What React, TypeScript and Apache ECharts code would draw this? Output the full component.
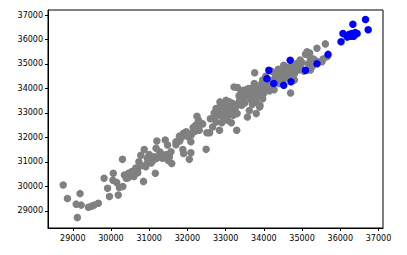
import React, { useEffect, useRef } from "react";
import * as echarts from "echarts";

const xLimits = [28352, 37118];
const yLimits = [28295, 37205];
const tickValues = [29000, 30000, 31000, 32000, 33000, 34000, 35000, 36000, 37000];

const grayPoints: [number, number][] = [
  [28750, 30050], [28860, 29500], [29190, 29700], [29120, 28720], [29090, 29270],
  [29220, 29230], [29410, 29140], [29500, 29190], [29560, 29230], [29670, 29310],
  [29820, 30330], [29910, 29920], [29960, 29580], [30060, 30530], [30050, 30250],
  [30150, 30150], [30190, 29640], [30220, 29950], [30310, 29990], [30300, 31100],
  [30350, 30460], [30400, 30330], [30460, 30530], [30550, 30600], [30600, 30400],
  [30690, 30670], [30730, 31000], [30780, 31270], [30850, 30200], [30870, 31500],
  [30910, 30800], [30960, 30970], [31030, 31100], [31130, 31210], [31160, 30530],
  [31180, 31550], [31200, 31850], [31270, 31410], [31330, 31270], [31400, 31230],
  [31420, 31890], [31480, 31690], [31530, 31200], [31590, 30930], [31570, 31410],
  [31700, 31820], [31790, 32050], [31880, 31500], [31900, 31340], [31900, 32170],
  [31970, 32230], [32010, 32030], [32050, 31100], [32090, 31370], [32090, 31820],
  [32160, 32230], [32220, 32500], [32250, 32860], [32290, 32700], [32310, 32290],
  [32490, 31510], [32510, 32190], [32580, 32190], [32600, 32760], [32660, 32420],
  [32750, 32630], [32840, 32290], [32750, 33180], [32810, 32910], [32880, 33240],
  [32920, 33040], [33010, 33510], [33010, 32830], [33070, 33310], [33140, 33140],
  [33170, 33390], [33220, 33040], [33220, 34060], [33290, 32290], [33300, 32970],
  [33310, 34040], [33380, 33580], [33420, 33310], [33460, 33920], [33550, 33730],
  [33570, 32830], [33620, 33100], [33680, 33510], [33720, 34040], [33760, 34640],
  [33800, 32970], [33840, 33790], [33890, 33240], [33930, 34130], [33970, 34340],
  [34050, 34000], [33970, 33580], [34050, 34500], [34140, 34340], [34180, 34060],
  [34270, 33950], [34310, 34560], [34380, 34780], [34440, 34450], [34460, 34640],
  [34520, 34950], [34570, 34500], [34640, 34750], [34700, 33810], [34740, 34890],
  [34800, 34340], [34860, 35020], [34910, 34750], [34950, 35160], [35090, 35400],
  [35130, 35500], [35170, 35020], [35220, 34750], [35260, 34890], [35220, 35230],
  [35390, 35640], [35520, 35090], [35610, 35820], [35660, 35300], [35130, 34750],
  [32700, 33000], [32850, 33100], [32950, 33300], [33050, 33150], [33100, 32950],
  [32900, 32850], [33150, 33250], [33250, 33200], [32980, 33400], [33100, 33450],
  [32800, 33200], [33300, 33300], [33200, 32900], [32700, 32800], [33050, 32700],
  [33150, 32600], [32900, 32600], [33500, 33650], [33600, 33900], [33700, 33800],
  [33650, 33600], [33800, 34000], [33850, 33700], [33900, 33900], [34000, 33800],
  [34100, 34100], [33750, 34200], [33950, 34200], [33600, 34000], [33500, 33400],
  [33700, 33350], [33800, 33450], [33900, 33300], [33400, 33800], [34150, 33900],
  [34200, 34300], [34350, 34350], [34450, 34600], [34550, 34700], [34600, 34450],
  [34650, 34600], [34700, 34500], [34750, 34700], [34800, 34600], [34850, 34800],
  [34550, 34900], [34400, 34200], [34500, 34300], [34650, 34850], [34950, 34900],
  [35000, 35050], [34700, 34400], [34300, 34500], [34200, 34700], [35050, 34700],
  [35250, 34900], [35400, 35100], [35550, 35200], [35200, 35450], [35300, 35200],
  [31800, 31850], [31850, 32000], [31950, 32100], [32000, 32150], [32100, 32100],
  [32150, 32400], [32200, 32250], [31700, 31700], [32300, 32450], [32400, 32550],
  [31000, 31300], [31050, 30950], [31100, 31050], [31200, 31150], [31300, 31350],
  [31350, 31150], [31450, 31300], [31500, 31050], [30950, 31150], [30800, 30850],
  [30500, 30450], [30600, 30550], [30650, 30750], [30450, 30350], [30700, 30550],
  [33350, 33700], [33450, 33550], [33550, 33950], [33750, 33650], [34000, 34050],
  [34350, 34650], [34600, 34650], [34900, 34950], [33350, 33450], [32850, 33450],
];

const bluePoints: [number, number][] = [
  [36660, 36820], [36730, 36400], [36330, 36620], [36020, 35910], [36070, 36240],
  [36180, 36100], [36240, 36210], [36310, 36240], [36350, 36130], [36390, 36280],
  [36440, 36240], [36270, 36130], [35680, 35390], [35390, 35010], [35090, 34740],
  [34690, 35150], [34710, 34270], [34520, 34130], [34130, 34740], [34080, 34400],
  [34260, 34200],
];

export default function App() {
  const ref = useRef<HTMLDivElement>(null);
  useEffect(() => {
    document.body.style.margin = "0";
    const chart = echarts.init(ref.current!, null, { renderer: "svg" });
    const axisCommon = {
      type: "value" as const,
      scale: true,
      splitNumber: 8,
      splitLine: { show: false },
      axisLine: { show: true, lineStyle: { color: "#000", width: 1 } },
      axisTick: {
        show: true,
        length: 3,
        inside: false,
        customValues: tickValues,
        lineStyle: { color: "#000" },
      },
      axisLabel: {
        color: "#000",
        fontSize: 8,
        fontFamily: "DejaVu Sans",
        customValues: tickValues,
        formatter: (v: number) => String(v),
      },
    };
    chart.setOption({
      animation: false,
      backgroundColor: "#fff",
      grid: {
        left: 48,
        right: 24,
        top: 10,
        bottom: 27,
        show: true,
        borderColor: "#000",
        borderWidth: 1,
        backgroundColor: "transparent",
      },
      xAxis: {
        ...axisCommon,
        min: xLimits[0],
        max: xLimits[1],
        axisLabel: { ...axisCommon.axisLabel, margin: 6 },
      },
      yAxis: {
        ...axisCommon,
        min: yLimits[0],
        max: yLimits[1],
        axisLabel: { ...axisCommon.axisLabel, margin: 5 },
      },
      series: [
        {
          type: "scatter",
          data: grayPoints,
          symbolSize: 7.5,
          itemStyle: { color: "#808080", opacity: 1 },
          emphasis: { disabled: true },
        },
        {
          type: "scatter",
          data: bluePoints,
          symbolSize: 7.5,
          itemStyle: { color: "#0000ff", opacity: 1 },
          emphasis: { disabled: true },
        },
      ],
    });
    return () => chart.dispose();
  }, []);
  return <div ref={ref} style={{ width: 407, height: 255 }} />;
}
